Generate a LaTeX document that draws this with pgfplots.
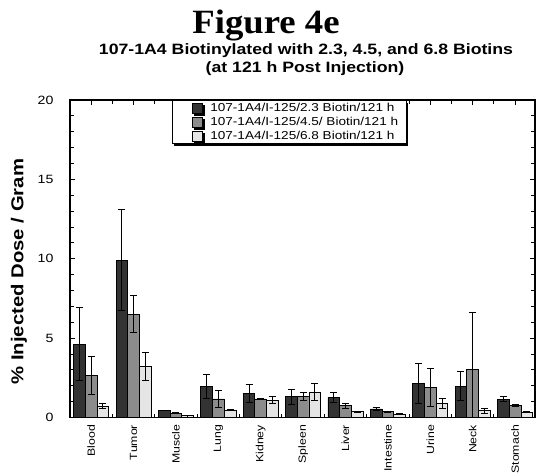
\documentclass[border=0pt]{standalone}
\usepackage{pgfplots}
\pgfplotsset{compat=1.18}
\usepackage{pgfplotstable}
\usepackage{fontspec}
\setmainfont{Liberation Sans}[FakeStretch=1.18]
\newfontfamily\titlefont{Liberation Serif}[FakeStretch=1.08]
\usetikzlibrary{shadows}

\pgfplotstableread{
x y e
0 4.63 2.31
1 9.92 3.20
2 0.45 0.02
3 1.94 0.76
4 1.52 0.55
5 1.31 0.47
6 1.25 0.31
7 0.54 0.10
8 2.15 1.26
9 1.98 0.89
10 1.15 0.16
}\dataA
\pgfplotstableread{
x y e
0 2.63 1.20
1 6.50 1.17
2 0.28 0.02
3 1.17 0.52
4 1.17 0.05
5 1.31 0.25
6 0.74 0.15
7 0.37 0.03
8 1.90 1.20
9 3.04 3.56
10 0.74 0.05
}\dataB
\pgfplotstableread{
x y e
0 0.72 0.17
1 3.20 0.88
2 0.12 0.02
3 0.47 0.05
4 1.10 0.21
5 1.61 0.54
6 0.37 0.03
7 0.22 0.02
8 0.89 0.32
9 0.43 0.15
10 0.33 0.03
}\dataC

\begin{document}
\begin{tikzpicture}
\useasboundingbox (-70pt,-54.5pt) rectangle (466pt,417.5pt);
\begin{axis}[
  at={(0pt,0pt)}, anchor=south west,
  scale only axis, width=465pt, height=317.5pt,
  ybar=0pt, bar width=11.7pt,
  xmin=-0.5, xmax=10.47,
  ymin=0, ymax=20,
  xtick={0,...,10},
  xticklabels={Blood,Tumor,Muscle,Lung,Kidney,Spleen,Liver,Intestine,Urine,Neck,Stomach},
  minor xtick={0.5,1.5,...,9.5},
  ytick={0,5,10,15,20},
  minor ytick={1,2,3,4,6,7,8,9,11,12,13,14,16,17,18,19},
  tick align=inside, tick pos=both,
  major tick length=5pt, minor tick length=4pt,
  every tick/.style={black, line width=1pt},
  axis line style={line width=1.3pt},
  /pgf/number format/assume math mode=true,
  x tick label style={rotate=90, anchor=east, font=\fontsize{10.4}{11}\selectfont, xshift=-4pt},
  y tick label style={font=\fontsize{12}{12}\selectfont, xshift=-13pt},
  legend style={at={(0.219,1)}, anchor=north west, draw=black, line width=1pt,
    font=\fontsize{11.5}{13}\selectfont, row sep=1pt, inner xsep=6pt, inner ysep=1.5pt,
    nodes={inner ysep=1.5pt},
    drop shadow={shadow xshift=2pt, shadow yshift=-2pt, fill=black, opacity=1},
    fill=white, cells={anchor=west}},
  legend image code/.code={%
    \pgfpathmoveto{\pgfpoint{-14pt}{0pt}}\pgfpathlineto{\pgfpoint{16pt}{0pt}}\pgfusepath{}%
    \draw[#1, line width=0.6pt] (0pt,-5pt) rectangle (10pt,5pt);},
  error bars/y dir=both, error bars/y explicit,
  error bars/error bar style={line width=1pt, black},
  error bars/error mark options={rotate=90, mark size=3.5pt, line width=1pt, black},
]
\addplot[fill=black!80, draw=black, line width=0.8pt] table[x=x, y=y, y error=e] {\dataA};
\addplot[fill=black!45, draw=black, line width=0.8pt] table[x=x, y=y, y error=e] {\dataB};
\addplot[fill=black!10, draw=black, line width=0.8pt] table[x=x, y=y, y error=e] {\dataC};
\legend{107-1A4/I-125/2.3 Biotin/121 h, 107-1A4/I-125/4.5/ Biotin/121 h, 107-1A4/I-125/6.8 Biotin/121 h}
\end{axis}
\node[anchor=base, font=\titlefont\bfseries\fontsize{34}{34}\selectfont] at (196pt,384.2pt) {Figure 4e};
\node[anchor=base, font=\bfseries\fontsize{15}{15}\selectfont] at (236pt,362.5pt) {107-1A4 Biotinylated with 2.3, 4.5, and 6.8 Biotins};
\node[anchor=base, font=\bfseries\fontsize{15}{15}\selectfont] at (235pt,344.8pt) {(at 121 h Post Injection)};
\node[rotate=90, font=\bfseries\fontsize{17.2}{17.2}\selectfont] at (-51pt,145.8pt) {\% Injected Dose / Gram};
\end{tikzpicture}
\end{document}
